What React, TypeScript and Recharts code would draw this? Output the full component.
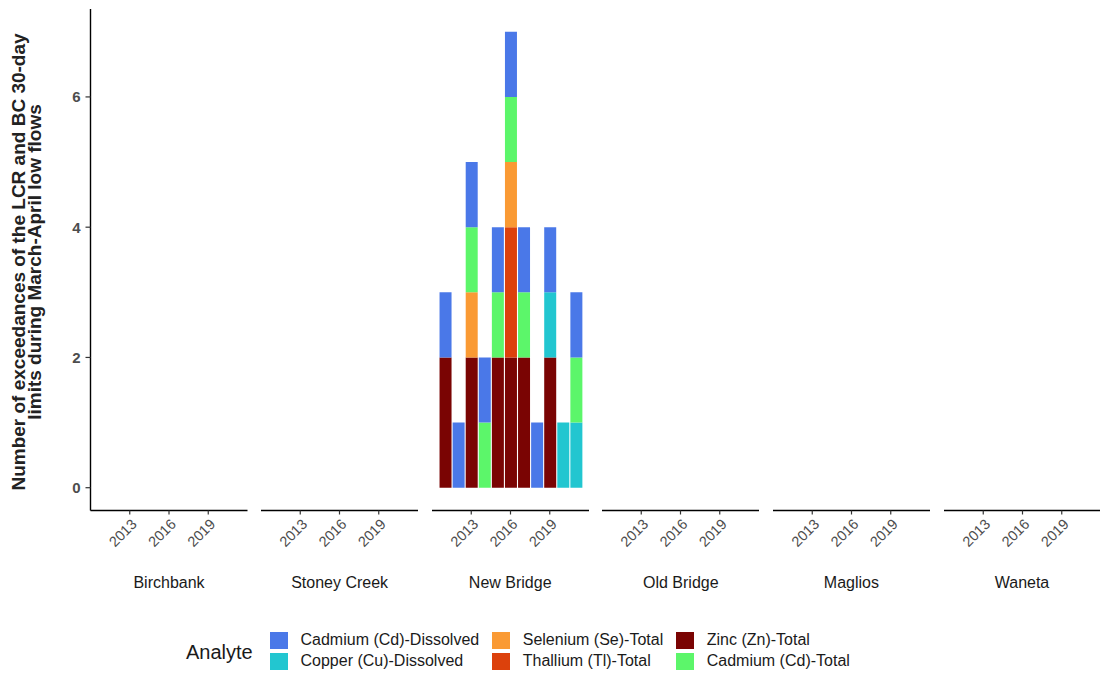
import React from 'react';
import { BarChart, Bar, XAxis, YAxis } from 'recharts';

// ---------- data ----------
const years = [2011, 2012, 2013, 2014, 2015, 2016, 2017, 2018, 2019, 2020, 2021];
const sites = ['Birchbank', 'Stoney Creek', 'New Bridge', 'Old Bridge', 'Maglios', 'Waneta'];
const xTicks = [2013, 2016, 2019];
const yTicks = [0, 2, 4, 6];

// New Bridge exceedance counts per year (other sites have none)
const znTotal = [2, 0, 2, 0, 2, 2, 2, 0, 2, 0, 0];
const tlTotal = [0, 0, 0, 0, 0, 2, 0, 0, 0, 0, 0];
const cuDissolved = [0, 0, 0, 0, 0, 0, 0, 0, 1, 1, 1];
const seTotal = [0, 0, 1, 0, 0, 1, 0, 0, 0, 0, 0];
const cdTotal = [0, 0, 1, 1, 1, 1, 1, 0, 0, 0, 1];
const cdDissolved = [1, 1, 1, 1, 1, 1, 1, 1, 1, 0, 1];
const noExceedances = [0, 0, 0, 0, 0, 0, 0, 0, 0, 0, 0];

const analyteNames = {
  cdD: 'Cadmium (Cd)-Dissolved',
  cuD: 'Copper (Cu)-Dissolved',
  seT: 'Selenium (Se)-Total',
  tlT: 'Thallium (Tl)-Total',
  znT: 'Zinc (Zn)-Total',
  cdT: 'Cadmium (Cd)-Total',
};
const analyteColors = {
  cdD: '#4A78E8',
  cuD: '#22C6D0',
  seT: '#FA9A34',
  tlT: '#DC410C',
  znT: '#7A0403',
  cdT: '#5CF66A',
};
// stacking order, bottom first
const stackOrder = ['znT', 'tlT', 'cuD', 'seT', 'cdT', 'cdD'];
// legend columns
const legendColumns = [
  ['cdD', 'cuD'],
  ['seT', 'tlT'],
  ['znT', 'cdT'],
];

const siteValues: Record<string, Record<string, number[]>> = {
  'New Bridge': {
    znT: znTotal, tlT: tlTotal, cuD: cuDissolved, seT: seTotal, cdT: cdTotal, cdD: cdDissolved,
  },
};

function buildData(site: string) {
  const vals = siteValues[site];
  return years.map((year, i) => {
    const row: any = { year };
    stackOrder.forEach((k) => {
      row[k] = vals ? vals[k][i] : noExceedances[i];
    });
    return row;
  });
}

// ---------- layout ----------
const FONT = '"Liberation Sans", Arial, Helvetica, sans-serif';
const CHART_H = 560;
const PLOT_TOP = 9;
const PLOT_BOTTOM = 510.5;
const X_AXIS_H = CHART_H - PLOT_BOTTOM;
const PANEL_W = 157;
const PANEL_PITCH = 170.6;
const PANEL_X0 = 90.5;

const XTick = (props: any) => {
  const { x, y, payload } = props;
  return (
    <g transform={`translate(${x + 8},${y + 8.5})`}>
      <text x={0} y={0} textAnchor="end" transform="rotate(-45)" fontSize={14.5} fill="#4D4D4D" fontFamily={FONT}>
        {payload.value}
      </text>
    </g>
  );
};

function Panel({ site, index }: { site: string; index: number }) {
  const first = index === 0;
  const yW = first ? PANEL_X0 : 0;
  const left = first ? 0 : PANEL_X0 + index * PANEL_PITCH;
  const data = buildData(site);
  return (
    <div style={{ position: 'absolute', left, top: 0 }}>
      <BarChart
        width={yW + PANEL_W}
        height={CHART_H}
        data={data}
        margin={{ top: PLOT_TOP, right: 0, bottom: 0, left: 0 }}
        barSize={12}
      >
        <XAxis
          dataKey="year"
          type="number"
          domain={[2010, 2022]}
          ticks={xTicks}
          interval={0}
          height={X_AXIS_H}
          tick={<XTick />}
          tickSize={4}
          tickLine={{ stroke: '#333', strokeWidth: 1.2 }}
          axisLine={{ stroke: '#000', strokeWidth: 1.4 }}
        />
        <YAxis
          hide={!first}
          width={yW}
          domain={[-0.35, 7.35]}
          ticks={yTicks}
          interval={0}
          tickSize={5}
          tickMargin={5}
          tick={{ fontSize: 15, fontWeight: 'bold', fill: '#4D4D4D', fontFamily: FONT }}
          tickLine={{ stroke: '#333', strokeWidth: 1.2 }}
          axisLine={{ stroke: '#000', strokeWidth: 1.4 }}
        />
        {stackOrder.map((k) => (
          <Bar
            key={k}
            dataKey={k}
            name={(analyteNames as any)[k]}
            stackId="a"
            fill={(analyteColors as any)[k]}
            isAnimationActive={false}
          />
        ))}
      </BarChart>
      <div
        style={{
          position: 'absolute',
          left: yW,
          width: PANEL_W,
          top: 574,
          textAlign: 'center',
          fontSize: 16,
          color: '#1A1A1A',
          fontFamily: FONT,
          whiteSpace: 'nowrap',
        }}
      >
        {site}
      </div>
    </div>
  );
}

export default function App() {
  return (
    <div
      style={{
        position: 'absolute',
        left: 0,
        top: 0,
        width: 1100,
        height: 675,
        background: '#fff',
        fontFamily: FONT,
        overflow: 'hidden',
      }}
    >
      {sites.map((s, i) => (
        <Panel key={s} site={s} index={i} />
      ))}
      <svg style={{ position: 'absolute', left: 0, top: 0 }} width={60} height={560}>
        <text
          transform="translate(24.5,262) rotate(-90)"
          textAnchor="middle"
          fontSize={19}
          fontWeight="bold"
          fill="#222"
          fontFamily={FONT}
        >
          Number of exceedances of the LCR and BC 30-day
        </text>
        <text
          transform="translate(41,262) rotate(-90)"
          textAnchor="middle"
          fontSize={19}
          fontWeight="bold"
          fill="#222"
          fontFamily={FONT}
        >
          limits during March-April low flows
        </text>
      </svg>
      <div
        style={{
          position: 'absolute',
          left: 186,
          top: 640,
          fontSize: 20,
          color: '#1A1A1A',
          lineHeight: '24px',
        }}
      >
        Analyte
      </div>
      <div style={{ position: 'absolute', left: 270, top: 631, display: 'flex', gap: 13 }}>
        {legendColumns.map((col, ci) => (
          <div key={ci} style={{ display: 'flex', flexDirection: 'column', gap: 3 }}>
            {col.map((k) => (
              <div key={k} style={{ display: 'flex', alignItems: 'center', height: 18 }}>
                <div style={{ width: 18, height: 17, background: (analyteColors as any)[k] }} />
                <div style={{ marginLeft: 12.5, fontSize: 16, color: '#1A1A1A', whiteSpace: 'nowrap', lineHeight: '18px' }}>
                  {(analyteNames as any)[k]}
                </div>
              </div>
            ))}
          </div>
        ))}
      </div>
    </div>
  );
}
